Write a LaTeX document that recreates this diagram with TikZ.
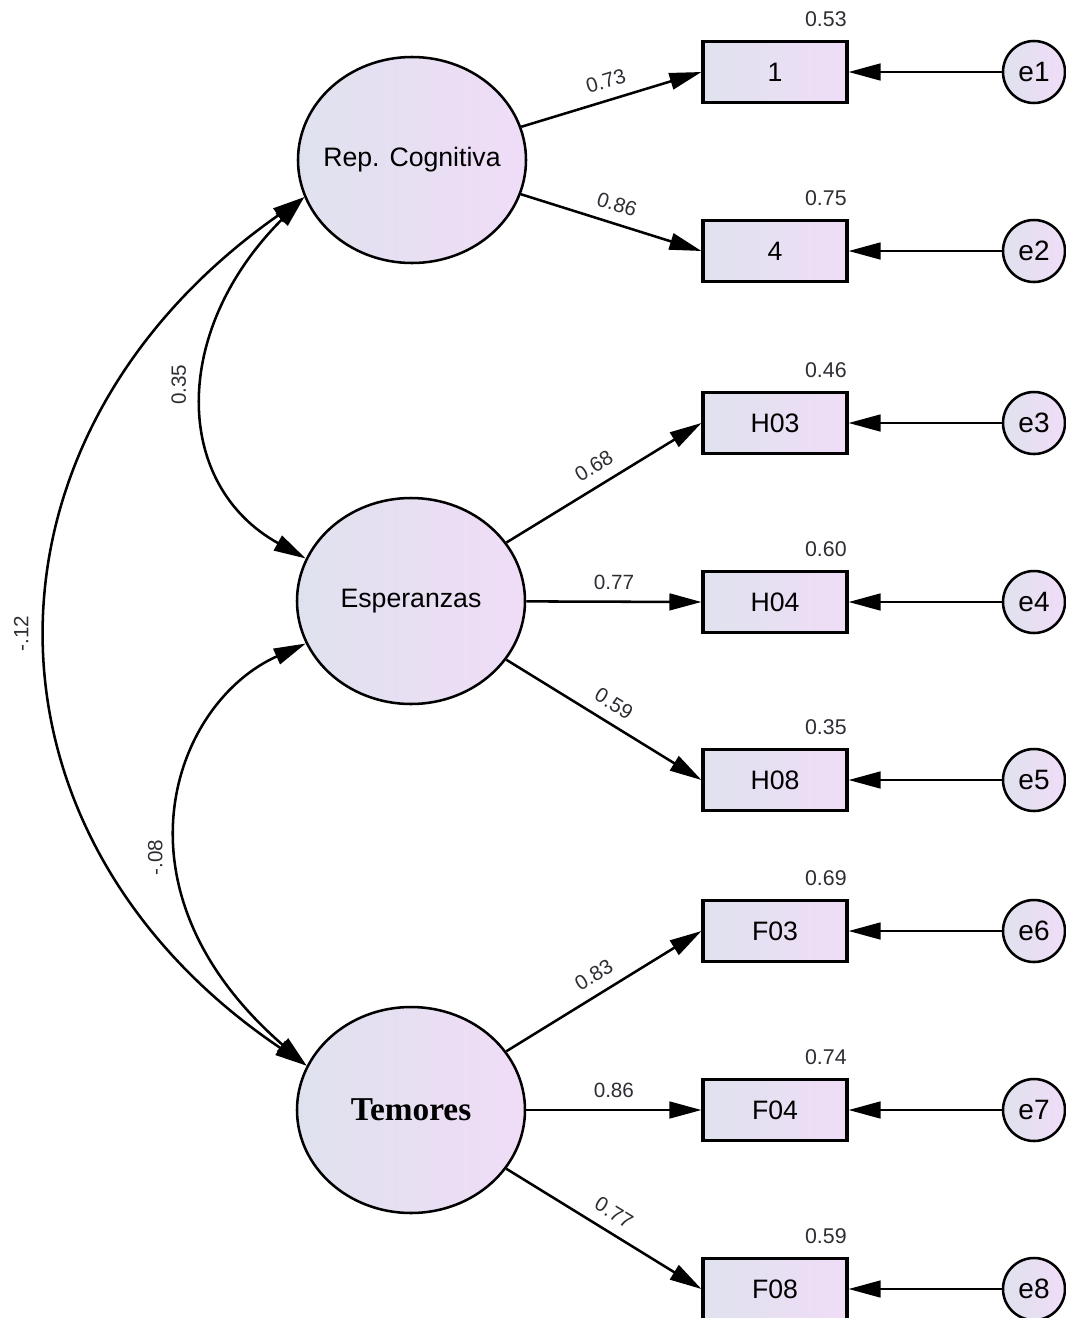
\documentclass[tikz,border=0pt]{standalone}
\usepackage{fontspec}
\setmainfont{Liberation Sans}
\newfontfamily\serifTNR{Liberation Serif}
\usetikzlibrary{arrows.meta,shapes.geometric}
\definecolor{fillA}{RGB}{223,226,238}
\definecolor{fillB}{RGB}{240,220,247}
\definecolor{numc}{RGB}{45,45,52}
\begin{document}
\begin{tikzpicture}[x=0.75pt,y=0.75pt,
  line width=1.9pt,
  latent/.style={ellipse, draw, line width=1.9pt, left color=fillA, right color=fillB,
    minimum width=171pt, minimum height=154.5pt, inner sep=0pt,
    font=\fontsize{20}{24}\selectfont},
  obs/.style={rectangle, draw, line width=2.3pt, left color=fillA, right color=fillB,
    minimum width=108pt, minimum height=45.75pt, inner sep=0pt,
    font=\fontsize{20}{24}\selectfont},
  err/.style={circle, draw, line width=1.9pt, left color=fillA, right color=fillB,
    minimum size=46.5pt, inner sep=0pt, font=\fontsize{21}{24}\selectfont},
  num/.style={font=\fontsize{15.5}{18}\selectfont, text=numc, inner sep=1pt},
  rsq/.style={font=\fontsize{16}{18}\selectfont, text=numc, inner sep=1pt},
  tip/.style={-{Triangle[length=24pt,width=12.5pt]}},
  cov/.style={{Triangle[length=24pt,width=12.5pt]}-{Triangle[length=24pt,width=12.5pt]}},
]
\useasboundingbox (0,0) rectangle (1065,-1318);

% latent variables
\node[latent] (rep) at (412,-160) {\makebox[0pt]{Rep. Cognitiva}};
\node[latent] (esp) at (411,-601) {\makebox[0pt]{Esperanzas}};
\node[latent] (tem) at (411,-1110) {\makebox[0pt]{\fontsize{25}{28}\selectfont\serifTNR\bfseries Temores}};

% observed variables
\node[obs] (b1) at (775,-72)   {1};
\node[obs] (b4) at (775,-251)  {4};
\node[obs] (h3) at (775,-423)  {H03};
\node[obs] (h4) at (775,-602)  {H04};
\node[obs] (h8) at (775,-780)  {H08};
\node[obs] (f3) at (775,-931)  {F03};
\node[obs] (f4) at (775,-1110) {F04};
\node[obs] (f8) at (775,-1289) {F08};

% errors
\node[err] (e1) at (1034,-72)   {e1};
\node[err] (e2) at (1034,-251)  {e2};
\node[err] (e3) at (1034,-423)  {e3};
\node[err] (e4) at (1034,-602)  {e4};
\node[err] (e5) at (1034,-780)  {e5};
\node[err] (e6) at (1034,-931)  {e6};
\node[err] (e7) at (1034,-1110) {e7};
\node[err] (e8) at (1034,-1289) {e8};

% R squared
\foreach \b/\v in {b1/0.53,b4/0.75,h3/0.46,h4/0.60,h8/0.35,f3/0.69,f4/0.74,f8/0.59}
  \node[rsq] at ([xshift=-17pt,yshift=15.5pt]\b.north east) {\v};

% loadings
\draw[tip] (rep) -- (b1.west) node[num, midway, sloped, above=7pt] {0.73};
\draw[tip] (rep) -- (b4.west) node[num, midway, sloped, above=7pt] {0.86};
\draw[tip] (esp) -- (h3.west) node[num, midway, sloped, above=7pt] {0.68};
\draw[tip] (esp) -- (h4.west) node[num, midway, sloped, above=7pt] {0.77};
\draw[tip] (esp) -- (h8.west) node[num, midway, sloped, above=7pt] {0.59};
\draw[tip] (tem) -- (f3.west) node[num, midway, sloped, above=7pt] {0.83};
\draw[tip] (tem) -- (f4.west) node[num, midway, sloped, above=7pt] {0.86};
\draw[tip] (tem) -- (f8.west) node[num, midway, sloped, above=7pt] {0.77};

% error arrows
\foreach \e/\b in {e1/b1,e2/b4,e3/h3,e4/h4,e5/h8,e6/f3,e7/f4,e8/f8}
  \draw[tip] (\e) -- (\b.east);

% covariances
\draw[cov] (rep.199) to[out=225,in=151,out distance=142pt,in distance=114pt]
  node[num, pos=0.46, xshift=-20pt, rotate=90] {0.35} (esp.158.5);
\draw[cov] (esp.202) to[out=204,in=139,out distance=108pt,in distance=202pt]
  node[num, pos=0.6, xshift=-19pt, rotate=90] {-.08} (tem.157.5);
\draw[cov] (rep.199) to[out=215,in=146,looseness=1.22]
  node[num, midway, xshift=-21pt, rotate=90] {-.12} (tem.157.5);
\end{tikzpicture}
\end{document}
